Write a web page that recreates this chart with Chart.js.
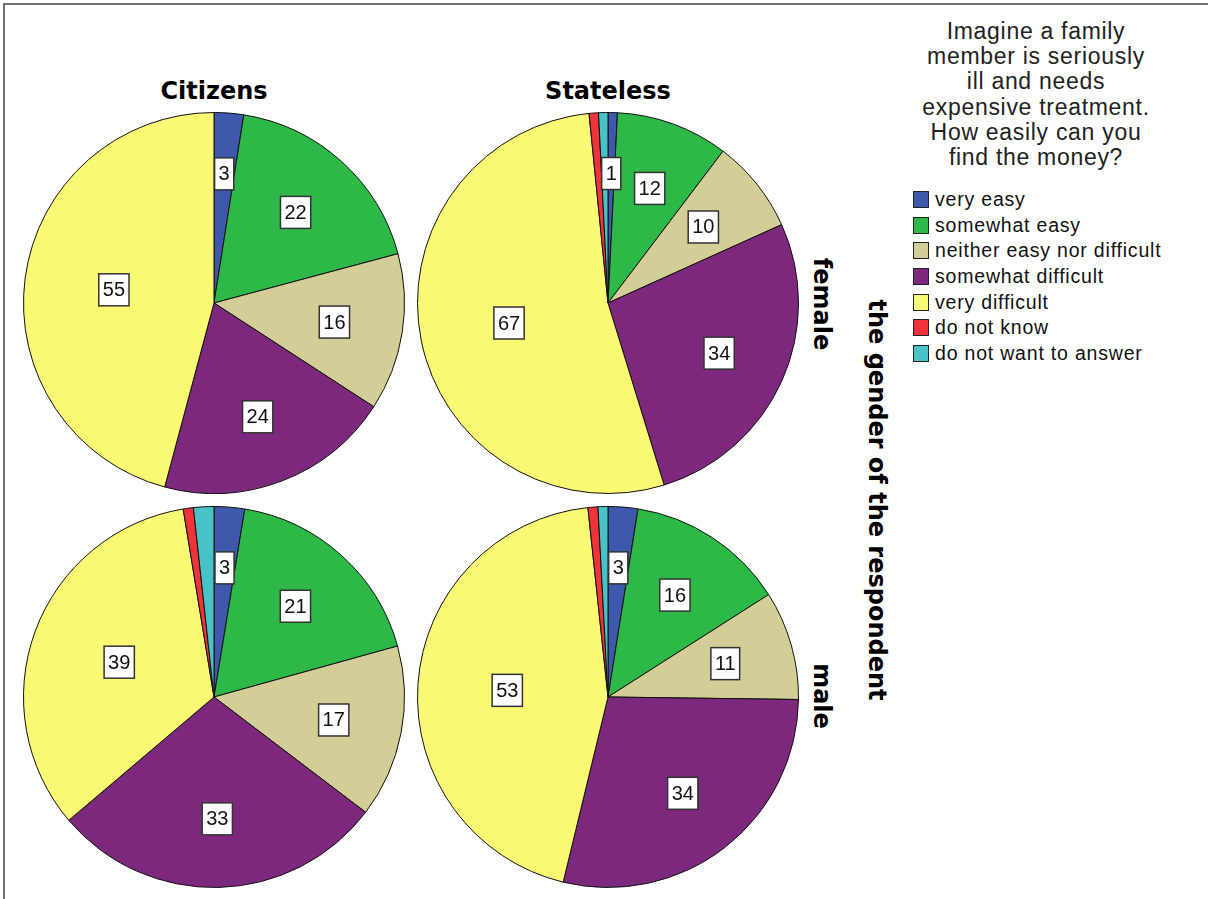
<!DOCTYPE html>
<html>
<head>
<meta charset="utf-8">
<script src="https://cdn.jsdelivr.net/npm/chart.js@4"></script>
<style>
  body { margin: 0; background: #fff; }
  #frame {
    position: relative; width: 1208px; height: 899px; overflow: hidden;
    background: #fff; box-sizing: border-box;
  }
  #edge {
    position: absolute; left: 3px; top: 3px; right: 0; bottom: 0;
    border-top: 2px solid #707070; border-left: 2px solid #707070;
  }
  canvas { position: absolute; }
  .bold {
    position: absolute; font-family: "DejaVu Sans", sans-serif; font-weight: bold;
    font-size: 24px; color: #000; white-space: nowrap; line-height: 1;
  }
  .rot { transform: translate(-50%, -50%) rotate(90deg); }
  .hcenter { transform: translate(-50%, -50%); }
  #legtitle {
    position: absolute; left: 1036px; top: 19px; transform: translateX(-50%);
    font-family: "Liberation Sans", Arial, sans-serif; font-size: 23px; letter-spacing: 0.7px;
    line-height: 25.2px; color: #222; text-align: center; white-space: nowrap;
  }
  #legend { position: absolute; left: 913px; top: 187px; }
  .item {
    height: 25.6px; display: flex; align-items: center;
    font-family: "Liberation Sans", Arial, sans-serif; font-size: 19.5px; letter-spacing: 0.8px; color: #111;
  }
  .box {
    width: 14px; height: 15px; border: 1.5px solid #222; margin-right: 6px; flex: none;
  }
</style>
</head>
<body>
<div id="frame">
  <div id="edge"></div>
  <canvas id="cf" width="382" height="382" style="left:23px;top:112px"></canvas>
  <canvas id="sf" width="382" height="382" style="left:417px;top:112px"></canvas>
  <canvas id="cm" width="382" height="382" style="left:23px;top:506px"></canvas>
  <canvas id="sm" width="382" height="382" style="left:417px;top:506px"></canvas>
  <div class="bold hcenter" style="left:214px;top:91px">Citizens</div>
  <div class="bold hcenter" style="left:608px;top:91px">Stateless</div>
  <div class="bold rot" style="left:822px;top:304px">female</div>
  <div class="bold rot" style="left:822px;top:696px">male</div>
  <div class="bold rot" style="left:877px;top:500px">the gender of the respondent</div>
  <div id="legtitle"></div>
  <div id="legend"></div>
</div>
<script>
var legendTitle = ['Imagine a family', 'member is seriously', 'ill and needs',
  'expensive treatment.', 'How easily can you', 'find the money?'];

var categories = ['very easy', 'somewhat easy', 'neither easy nor difficult',
  'somewhat difficult', 'very difficult', 'do not know', 'do not want to answer'];
var colors = ['#3E58AC', '#2EB848', '#D3CE97', '#7C287D', '#FBF873', '#EF3338', '#48C2C5'];

// counts per panel, same order as categories
var citizensFemale = [3, 22, 16, 24, 55, 0, 0];
var statelessFemale = [1, 12, 10, 34, 67, 1, 1];
var citizensMale = [3, 21, 17, 33, 39, 1, 2];
var statelessMale = [3, 16, 11, 34, 53, 1, 1];

// SPSS only printed labels for the first five categories
var showLabel = [true, true, true, true, true, false, false];

document.getElementById('legtitle').innerHTML = legendTitle.join('<br>');
var leg = document.getElementById('legend');
categories.forEach(function (c, i) {
  var row = document.createElement('div');
  row.className = 'item';
  row.innerHTML = '<span class="box" style="background:' + colors[i] + '"></span>' + c;
  leg.appendChild(row);
});

var boxLabels = {
  id: 'boxLabels',
  afterDatasetsDraw: function (chart) {
    var ctx = chart.ctx;
    var meta = chart.getDatasetMeta(0);
    var values = chart.data.datasets[0].data;
    var total = values.reduce(function (a, b) { return a + b; }, 0);
    ctx.save();
    ctx.font = '20px "Liberation Sans", Arial, sans-serif';
    ctx.textAlign = 'center';
    ctx.textBaseline = 'middle';
    meta.data.forEach(function (arc, i) {
      if (!showLabel[i] || !values[i]) return;
      var p = arc.getProps(['x', 'y', 'startAngle', 'endAngle', 'outerRadius'], true);
      var mid = (p.startAngle + p.endAngle) / 2;
      var frac = values[i] / total;
      var r = p.outerRadius * (frac > 0.3 ? 0.53 : (frac < 0.05 ? 0.68 : 0.64));
      var x = p.x + Math.cos(mid) * r;
      var y = p.y + Math.sin(mid) * r;
      var txt = String(values[i]);
      var w = ctx.measureText(txt).width + 8;
      var h = 32;
      ctx.fillStyle = '#fff';
      ctx.fillRect(x - w / 2, y - h / 2, w, h);
      ctx.lineWidth = 1.5;
      ctx.strokeStyle = '#333';
      ctx.strokeRect(x - w / 2, y - h / 2, w, h);
      ctx.fillStyle = '#111';
      ctx.fillText(txt, x, y + 1);
    });
    ctx.restore();
  }
};

function makePie(id, values) {
  return new Chart(document.getElementById(id), {
    type: 'pie',
    data: {
      labels: categories,
      datasets: [{
        data: values,
        backgroundColor: colors,
        borderColor: '#111',
        borderWidth: 1
      }]
    },
    options: {
      responsive: false,
      animation: false,
      layout: { padding: 0 },
      plugins: { legend: { display: false }, tooltip: { enabled: false } }
    },
    plugins: [boxLabels]
  });
}

makePie('cf', citizensFemale);
makePie('sf', statelessFemale);
makePie('cm', citizensMale);
makePie('sm', statelessMale);
</script>
</body>
</html>
